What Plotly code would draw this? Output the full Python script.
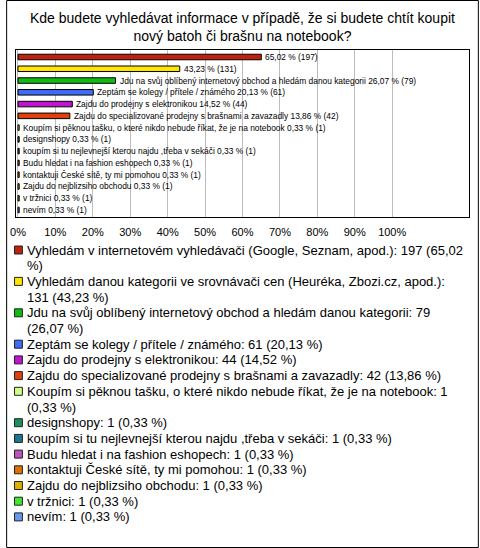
import textwrap
import plotly.graph_objects as go

# ---------------- data ----------------
categories = [
    "Vyhledám v internetovém vyhledávači (Google, Seznam, apod.)",
    "Vyhledám danou kategorii ve srovnávači cen (Heuréka, Zbozi.cz, apod.)",
    "Jdu na svůj oblíbený internetový obchod a hledám danou kategorii",
    "Zeptám se kolegy / přítele / známého",
    "Zajdu do prodejny s elektronikou",
    "Zajdu do specializované prodejny s brašnami a zavazadly",
    "Koupím si pěknou tašku, o které nikdo nebude říkat, že je na notebook",
    "designshopy",
    "koupím si tu nejlevnejší kterou najdu ,třeba v sekáči",
    "Budu hledat i na fashion eshopech",
    "kontaktuji České sítě, ty mi pomohou",
    "Zajdu do nejblizsiho obchodu",
    "v tržnici",
    "nevím",
]
counts = [197, 131, 79, 61, 44, 42, 1, 1, 1, 1, 1, 1, 1, 1]
percents = [65.02, 43.23, 26.07, 20.13, 14.52, 13.86, 0.33, 0.33, 0.33, 0.33, 0.33, 0.33, 0.33, 0.33]
colors = [
    "#c0200e", "#ffe600", "#12bb12", "#3d6cf5", "#c014d0", "#e0400e", "#ccff88",
    "#1a9060", "#1a7890", "#bb55bb", "#e07000", "#e0b000", "#44e633", "#6699ee",
]
tick_values = [0, 10, 20, 30, 40, 50, 60, 70, 80, 90, 100]
tick_labels = [f"{v}%" for v in tick_values]
title_text = ("Kde budete vyhledávat informace v případě, že si budete chtít koupit"
              "<br>nový batoh či brašnu na notebook?")

FONT = "Liberation Sans, Arial, sans-serif"

# ---------------- geometry (pixels) ----------------
W, H = 480, 548
PL, PR, PT, PB = 10, 470, 50, 217  # plot area edges
pw, ph = PR - PL, PB - PT


def px_x(x):
    return (x - PL) / pw


def px_y(y):
    return (PB - y) / ph


def fmt(v):
    return f"{v:.2f}".replace(".", ",")


fig = go.Figure()
fig.add_trace(go.Bar(
    x=percents,
    y=categories,
    orientation="h",
    width=0.47,
    marker=dict(color=colors, line=dict(color="#000000", width=1)),
    showlegend=False,
    hoverinfo="skip",
))

annotations = []
# bar value labels
for cat, p, n in zip(categories, percents, counts):
    if p > 30:
        label = f"{fmt(p)} % ({n})"
    else:
        label = f"{cat} {fmt(p)} % ({n})"
    annotations.append(dict(
        x=p, y=cat, xref="x", yref="y", text=label, showarrow=False,
        xanchor="left", yanchor="middle", xshift=2,
        font=dict(family=FONT, size=8.4, color="#000000"),
    ))

# title
annotations.append(dict(
    x=px_x(240), y=px_y(27), xref="paper", yref="paper",
    text=title_text, showarrow=False, xanchor="center", yanchor="middle",
    font=dict(family=FONT, size=14, color="#000000"),
))

# custom legend
shapes = []
line_y0, line_step = 250, 15.7
k = 0
for cat, p, n, c in zip(categories, percents, counts, colors):
    full = f"{cat}: {n} ({fmt(p)} %)"
    lines = textwrap.wrap(full, width=72, break_on_hyphens=False)
    yc = line_y0 + k * line_step
    shapes.append(dict(
        type="rect", xref="paper", yref="paper",
        x0=px_x(8.5), x1=px_x(16.5), y0=px_y(yc - 4), y1=px_y(yc + 4),
        fillcolor=c, line=dict(color="#222222", width=1),
    ))
    for ln in lines:
        annotations.append(dict(
            x=px_x(19), y=px_y(line_y0 + k * line_step), xref="paper", yref="paper",
            text=ln, showarrow=False, xanchor="left", yanchor="middle",
            font=dict(family=FONT, size=13, color="#000000"),
        ))
        k += 1

# outer border
shapes.append(dict(
    type="rect", xref="paper", yref="paper",
    x0=px_x(0.5), x1=px_x(479.5), y0=px_y(547.5), y1=px_y(0.5),
    line=dict(color="#000000", width=1), fillcolor="rgba(0,0,0,0)",
))

# axis range: 0% at x=12, 38 px per 10 %
x_left = -(12 - PL) / 3.8
x_right = (PR - 12) / 3.8

fig.update_layout(
    width=W, height=H,
    margin=dict(l=PL, r=W - PR, t=PT, b=H - PB, pad=0),
    paper_bgcolor="#ffffff", plot_bgcolor="#ffffff",
    font=dict(family=FONT, size=11, color="#000000"),
    showlegend=False,
    annotations=annotations,
    shapes=shapes,
    xaxis=dict(
        range=[x_left, x_right], tickmode="array", tickvals=tick_values,
        ticktext=tick_labels,
        showgrid=True, gridcolor="#bdbdbd", gridwidth=1, zeroline=False,
        showline=True, mirror=True, linecolor="#000000", linewidth=1,
        ticks="outside", ticklen=5, tickcolor="#ffffff",
        tickfont=dict(family=FONT, size=11, color="#000000"),
        fixedrange=True,
    ),
    yaxis=dict(
        autorange="reversed", showticklabels=False, showgrid=False,
        zeroline=False, showline=True, mirror=True, linecolor="#000000",
        linewidth=1, ticks="", fixedrange=True,
    ),
)

fig.write_html(
    "out.html",
    post_script="document.body.style.margin='0';document.body.style.padding='0';",
    config={"displayModeBar": False},
)
